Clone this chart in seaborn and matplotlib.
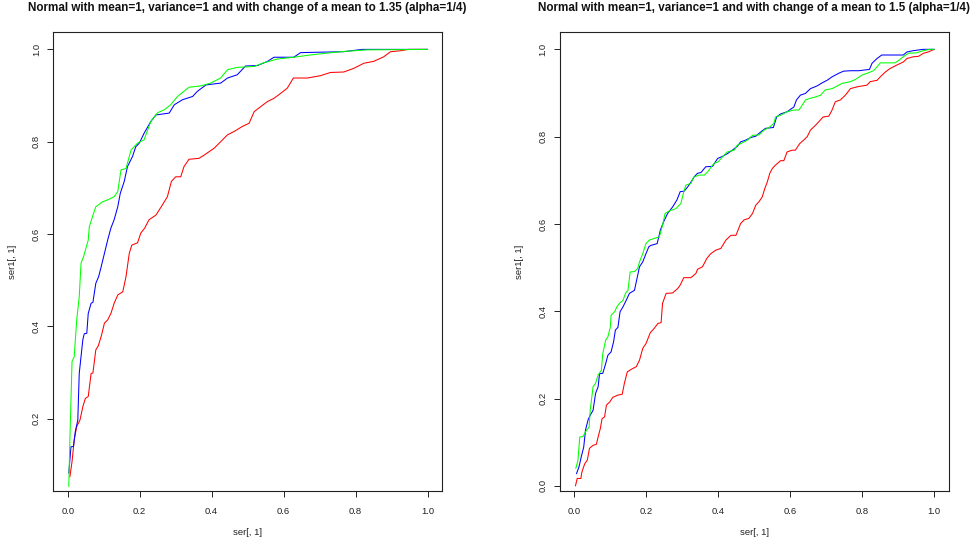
import matplotlib
matplotlib.use("Agg")
import matplotlib.pyplot as plt
import numpy as np
import pandas as pd
import seaborn as sns

# ---- data (ROC-like curves) ----
# left panel: change of mean to 1.35
left_red_x = [0.006, 0.012, 0.018, 0.025, 0.034, 0.042, 0.049, 0.057, 0.065, 0.070,
              0.078, 0.085, 0.094, 0.102, 0.111, 0.120, 0.129, 0.139, 0.153, 0.162,
              0.171, 0.178, 0.194, 0.203, 0.214, 0.226, 0.245, 0.263, 0.277, 0.288,
              0.300, 0.314, 0.323, 0.337, 0.365, 0.379, 0.407, 0.425, 0.444, 0.462,
              0.485, 0.504, 0.518, 0.536, 0.555, 0.573, 0.592, 0.610, 0.627, 0.666,
              0.702, 0.730, 0.767, 0.795, 0.823, 0.850, 0.878, 0.897, 0.924, 0.947, 1.0]
left_red_y = [0.074, 0.107, 0.154, 0.183, 0.197, 0.226, 0.244, 0.248, 0.298, 0.299,
              0.349, 0.358, 0.381, 0.407, 0.414, 0.428, 0.450, 0.468, 0.475, 0.508,
              0.558, 0.576, 0.581, 0.602, 0.613, 0.631, 0.641, 0.663, 0.681, 0.714,
              0.724, 0.724, 0.746, 0.762, 0.764, 0.771, 0.786, 0.800, 0.815, 0.822,
              0.833, 0.840, 0.865, 0.876, 0.887, 0.894, 0.905, 0.916, 0.938, 0.938,
              0.943, 0.950, 0.951, 0.959, 0.970, 0.974, 0.984, 0.995, 0.997, 1.0, 1.0]

left_blue_x = [0.003, 0.009, 0.016, 0.021, 0.028, 0.032, 0.042, 0.046, 0.053, 0.057,
               0.065, 0.070, 0.078, 0.086, 0.092, 0.102, 0.111, 0.120, 0.129, 0.139,
               0.146, 0.157, 0.166, 0.180, 0.189, 0.199, 0.212, 0.231, 0.245, 0.282,
               0.296, 0.319, 0.347, 0.360, 0.384, 0.425, 0.444, 0.471, 0.494, 0.527,
               0.555, 0.573, 0.628, 0.647, 0.767, 0.818, 1.0]
left_blue_y = [0.082, 0.139, 0.140, 0.172, 0.197, 0.298, 0.371, 0.384, 0.385, 0.428,
               0.450, 0.452, 0.493, 0.508, 0.526, 0.558, 0.587, 0.613, 0.631, 0.659,
               0.688, 0.714, 0.746, 0.768, 0.789, 0.797, 0.818, 0.844, 0.858, 0.862,
               0.880, 0.891, 0.898, 0.909, 0.923, 0.927, 0.938, 0.945, 0.964, 0.965,
               0.974, 0.983, 0.983, 0.993, 0.995, 1.0, 1.0]

left_green_x = [0.003, 0.006, 0.012, 0.018, 0.025, 0.032, 0.037, 0.044, 0.057, 0.060,
                0.069, 0.078, 0.097, 0.111, 0.129, 0.139, 0.148, 0.162, 0.176, 0.194,
                0.212, 0.231, 0.250, 0.268, 0.286, 0.305, 0.337, 0.370, 0.397, 0.425,
                0.444, 0.471, 0.518, 0.545, 0.582, 0.628, 0.675, 0.758, 0.832, 1.0]
left_green_y = [0.053, 0.154, 0.324, 0.334, 0.414, 0.464, 0.537, 0.551, 0.587, 0.616,
                0.638, 0.659, 0.670, 0.674, 0.681, 0.692, 0.739, 0.742, 0.782, 0.797,
                0.804, 0.844, 0.863, 0.869, 0.880, 0.898, 0.918, 0.921, 0.927, 0.938,
                0.956, 0.961, 0.963, 0.971, 0.979, 0.983, 0.988, 0.995, 0.999, 1.0]

# right panel: change of mean to 1.5
right_red_x = [0.003, 0.008, 0.018, 0.021, 0.029, 0.036, 0.042, 0.052, 0.061, 0.066,
               0.072, 0.077, 0.084, 0.089, 0.098, 0.107, 0.121, 0.133, 0.139, 0.147,
               0.158, 0.172, 0.181, 0.190, 0.199, 0.211, 0.222, 0.232, 0.241, 0.245,
               0.255, 0.273, 0.287, 0.294, 0.304, 0.324, 0.338, 0.342, 0.356, 0.368,
               0.379, 0.393, 0.407, 0.421, 0.435, 0.449, 0.462, 0.471, 0.485, 0.495,
               0.504, 0.513, 0.522, 0.529, 0.536, 0.543, 0.550, 0.559, 0.573, 0.582,
               0.591, 0.605, 0.614, 0.626, 0.637, 0.647, 0.656, 0.670, 0.679, 0.691,
               0.707, 0.716, 0.725, 0.739, 0.753, 0.767, 0.785, 0.813, 0.822, 0.841,
               0.850, 0.864, 0.877, 0.896, 0.914, 0.924, 0.942, 0.956, 0.970, 0.983, 1.0]
right_red_y = [0.0, 0.017, 0.017, 0.032, 0.051, 0.059, 0.086, 0.093, 0.095, 0.112,
               0.131, 0.154, 0.158, 0.185, 0.192, 0.203, 0.208, 0.210, 0.235, 0.261,
               0.267, 0.273, 0.288, 0.315, 0.326, 0.351, 0.361, 0.372, 0.374, 0.418,
               0.441, 0.442, 0.452, 0.460, 0.477, 0.477, 0.487, 0.496, 0.502, 0.521,
               0.532, 0.540, 0.544, 0.563, 0.574, 0.574, 0.601, 0.609, 0.613, 0.624,
               0.643, 0.651, 0.662, 0.681, 0.696, 0.716, 0.727, 0.735, 0.745, 0.745,
               0.765, 0.769, 0.769, 0.784, 0.792, 0.800, 0.815, 0.826, 0.834, 0.845,
               0.847, 0.861, 0.880, 0.884, 0.895, 0.910, 0.914, 0.918, 0.926, 0.929,
               0.937, 0.948, 0.956, 0.964, 0.971, 0.979, 0.983, 0.984, 0.991, 0.994, 1.0]

right_blue_x = [0.006, 0.013, 0.019, 0.026, 0.031, 0.038, 0.044, 0.052, 0.059, 0.066,
                0.070, 0.079, 0.087, 0.093, 0.102, 0.109, 0.114, 0.121, 0.127, 0.135,
                0.144, 0.153, 0.167, 0.174, 0.181, 0.190, 0.199, 0.207, 0.213, 0.230,
                0.239, 0.248, 0.259, 0.273, 0.285, 0.294, 0.305, 0.315, 0.324, 0.333,
                0.342, 0.352, 0.365, 0.384, 0.398, 0.412, 0.425, 0.439, 0.453, 0.462,
                0.476, 0.490, 0.504, 0.518, 0.531, 0.553, 0.562, 0.573, 0.591, 0.610,
                0.617, 0.628, 0.642, 0.656, 0.674, 0.688, 0.702, 0.716, 0.734, 0.748,
                0.767, 0.790, 0.820, 0.827, 0.841, 0.854, 0.914, 0.924, 0.942, 0.970, 1.0]
right_blue_y = [0.028, 0.044, 0.066, 0.089, 0.128, 0.151, 0.162, 0.173, 0.212, 0.227,
                0.257, 0.258, 0.280, 0.299, 0.307, 0.330, 0.357, 0.363, 0.399, 0.410,
                0.425, 0.441, 0.448, 0.475, 0.502, 0.513, 0.532, 0.548, 0.551, 0.555,
                0.586, 0.605, 0.624, 0.639, 0.655, 0.674, 0.675, 0.685, 0.696, 0.708,
                0.716, 0.718, 0.731, 0.732, 0.750, 0.755, 0.761, 0.769, 0.778, 0.788,
                0.792, 0.798, 0.801, 0.811, 0.819, 0.821, 0.845, 0.852, 0.857, 0.868,
                0.884, 0.895, 0.899, 0.910, 0.916, 0.923, 0.929, 0.937, 0.945, 0.950,
                0.951, 0.951, 0.954, 0.968, 0.979, 0.987, 0.987, 0.994, 0.997, 1.0, 1.0]

right_green_x = [0.004, 0.010, 0.015, 0.024, 0.031, 0.041, 0.044, 0.052, 0.059, 0.066,
                 0.075, 0.079, 0.087, 0.093, 0.100, 0.102, 0.112, 0.118, 0.125, 0.135,
                 0.142, 0.149, 0.155, 0.167, 0.176, 0.181, 0.190, 0.199, 0.208, 0.222,
                 0.236, 0.245, 0.252, 0.264, 0.282, 0.296, 0.304, 0.310, 0.324, 0.331,
                 0.347, 0.361, 0.370, 0.388, 0.399, 0.412, 0.425, 0.444, 0.453, 0.462,
                 0.481, 0.495, 0.513, 0.527, 0.541, 0.554, 0.559, 0.573, 0.591, 0.610,
                 0.624, 0.633, 0.642, 0.656, 0.670, 0.684, 0.697, 0.716, 0.730, 0.744,
                 0.767, 0.781, 0.799, 0.813, 0.831, 0.841, 0.850, 0.891, 0.900, 0.914,
                 0.928, 0.951, 0.970, 0.988, 1.0]
right_green_y = [0.040, 0.059, 0.112, 0.113, 0.124, 0.135, 0.173, 0.227, 0.235, 0.254,
                 0.265, 0.303, 0.334, 0.341, 0.364, 0.391, 0.399, 0.410, 0.418, 0.425,
                 0.441, 0.448, 0.490, 0.491, 0.498, 0.513, 0.532, 0.555, 0.563, 0.567,
                 0.570, 0.597, 0.624, 0.630, 0.635, 0.647, 0.674, 0.689, 0.693, 0.707,
                 0.712, 0.712, 0.719, 0.739, 0.742, 0.754, 0.765, 0.769, 0.781, 0.784,
                 0.792, 0.803, 0.804, 0.815, 0.821, 0.830, 0.845, 0.849, 0.857, 0.861,
                 0.861, 0.872, 0.884, 0.888, 0.891, 0.895, 0.907, 0.910, 0.916, 0.922,
                 0.926, 0.931, 0.941, 0.945, 0.951, 0.960, 0.969, 0.969, 0.974, 0.983,
                 0.991, 0.992, 0.997, 1.0, 1.0]

titles = [
    "Normal with mean=1, variance=1 and with change of a mean to 1.35 (alpha=1/4)",
    "Normal with mean=1, variance=1 and with change of a mean to 1.5 (alpha=1/4)",
]
x_ticks = [0.0, 0.2, 0.4, 0.6, 0.8, 1.0]
y_ticks_left = [0.2, 0.4, 0.6, 0.8, 1.0]
y_ticks_right = [0.0, 0.2, 0.4, 0.6, 0.8, 1.0]
colors = {"red": "#FF0000", "blue": "#0000FF", "green": "#00FF00"}


def make_frame(series):
    parts = []
    for name, xs, ys in series:
        parts.append(pd.DataFrame({"x": xs, "y": ys, "curve": name}))
    return pd.concat(parts, ignore_index=True)


panels = [
    make_frame([("red", left_red_x, left_red_y),
                ("blue", left_blue_x, left_blue_y),
                ("green", left_green_x, left_green_y)]),
    make_frame([("red", right_red_x, right_red_y),
                ("blue", right_blue_x, right_blue_y),
                ("green", right_green_x, right_green_y)]),
]
ylims = [(0.044, 1.037), (-0.011, 1.039)]
yticks = [y_ticks_left, y_ticks_right]

sns.set_theme(style="ticks")
plt.rcParams["font.family"] = ["Liberation Sans", "DejaVu Sans"]

fig = plt.figure(figsize=(9.73, 5.43), dpi=100)
axes = [fig.add_axes([0.0548, 0.0963, 0.3995, 0.8442]),
        fig.add_axes([0.5755, 0.0963, 0.3995, 0.8442])]

for ax, df, title, ylim, yt in zip(axes, panels, titles, ylims, yticks):
    sns.lineplot(data=df, x="x", y="y", hue="curve", palette=colors,
                 sort=False, estimator=None, linewidth=0.75, legend=False, ax=ax)
    ax.set_xticks(x_ticks)
    ax.set_yticks(yt)
    ax.set_xticklabels([f"{t:.1f}" for t in x_ticks])
    ax.set_yticklabels([f"{t:.1f}" for t in yt], rotation=90, va="center")
    ax.set_xlim(-0.04, 1.04)
    ax.set_ylim(*ylim)
    ax.tick_params(axis="both", direction="out", length=4, width=0.7,
                   color="#222222", labelsize=6.8, labelcolor="#222222")
    ax.tick_params(axis="x", pad=8)
    ax.tick_params(axis="y", pad=5)
    for sp in ax.spines.values():
        sp.set_visible(True)
        sp.set_linewidth(0.8)
        sp.set_color("#222222")
    ax.set_xlabel("ser[, 1]", fontsize=6.8, color="#222222")
    ax.set_ylabel("ser1[, 1]", fontsize=6.8, color="#222222")
    ax.xaxis.set_label_coords(0.5, -0.0916)
    ax.xaxis.label.set_va("center")
    ax.yaxis.set_label_coords(-0.105, 0.5)
    ax.yaxis.label.set_va("center")
    ax.set_title(title, fontsize=8.4, fontweight="bold", y=1.053, va="center",
                 pad=0, color="#111111")

fig.savefig("out.png", dpi=100)
